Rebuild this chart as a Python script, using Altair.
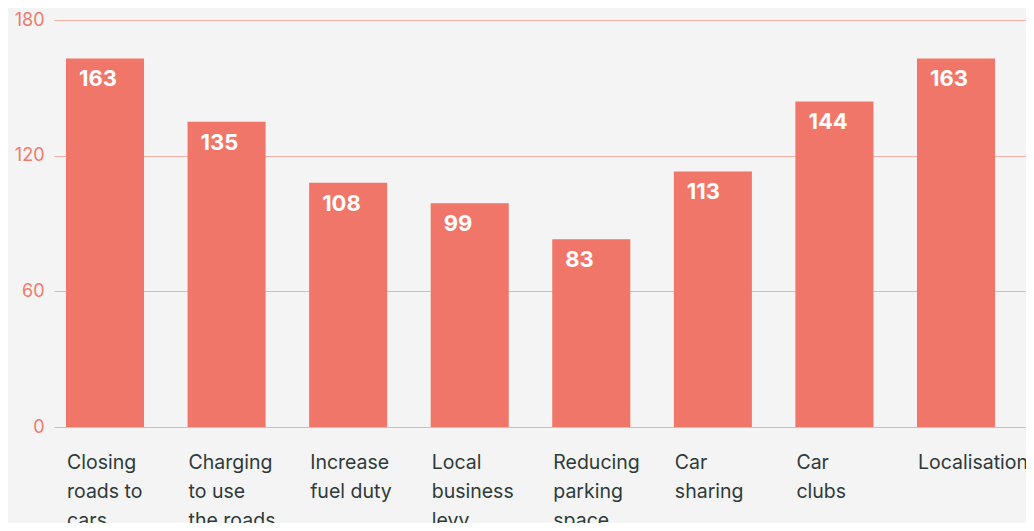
import altair as alt
import pandas as pd

categories = [
    "Closing\nroads to\ncars",
    "Charging\nto use\nthe roads",
    "Increase\nfuel duty",
    "Local\nbusiness\nlevy",
    "Reducing\nparking\nspace",
    "Car\nsharing",
    "Car\nclubs",
    "Localisation",
]
values = [163, 135, 108, 99, 83, 113, 144, 163]
y_ticks = [0, 60, 120, 180]

df = pd.DataFrame({"cat": categories, "val": values})

BAR = "#ef7668"
GRID = "#f4b0a4"
BG = "#f3f4f3"

xscale = alt.Scale(paddingInner=0.358, paddingOuter=0.1767, align=0.279)

x_axis = alt.Axis(
    title=None,
    labelAlign="left",
    labelBaseline="top",
    labelAngle=0,
    labelOffset=-38,
    labelExpr="split(datum.label, '\\n')",
    labelLineHeight=29,
    labelFont="Inter",
    labelFontSize=19.5,
    labelColor="#2e3a3a",
    labelPadding=26,
    ticks=False,
    domain=False,
    grid=False,
    labelLimit=0,
)

y_axis = alt.Axis(
    title=None,
    values=y_ticks,
    labelFont="Inter",
    labelFontSize=18,
    labelColor="#f07b6c",
    labelPadding=10,
    ticks=False,
    domain=False,
    grid=True,
    gridColor=GRID,
    gridWidth=1.2,
)

base = alt.Chart(df)

bars = base.mark_bar(color=BAR).encode(
    x=alt.X("cat:N", sort=categories, scale=xscale, axis=x_axis),
    y=alt.Y("val:Q", scale=alt.Scale(domain=[0, 180], nice=False), axis=y_axis),
)

labels = base.mark_text(
    align="left", baseline="top", dx=13, dy=11,
    font="Inter", fontSize=22, fontWeight="bold", color="white",
).encode(
    x=alt.X("cat:N", sort=categories, scale=xscale, bandPosition=0),
    y=alt.Y("val:Q"),
    text=alt.Text("val:Q"),
)

chart = (
    alt.layer(bars, labels)
    .properties(
        width=972,
        height=407,
        background=BG,
        padding={"left": 46, "top": 12, "right": 0, "bottom": 96},
        autosize=alt.AutoSizeParams(type="none"),
    )
    .configure_view(stroke=None)
)

chart.save("out.html", embed_options={"renderer": "svg", "actions": False})
